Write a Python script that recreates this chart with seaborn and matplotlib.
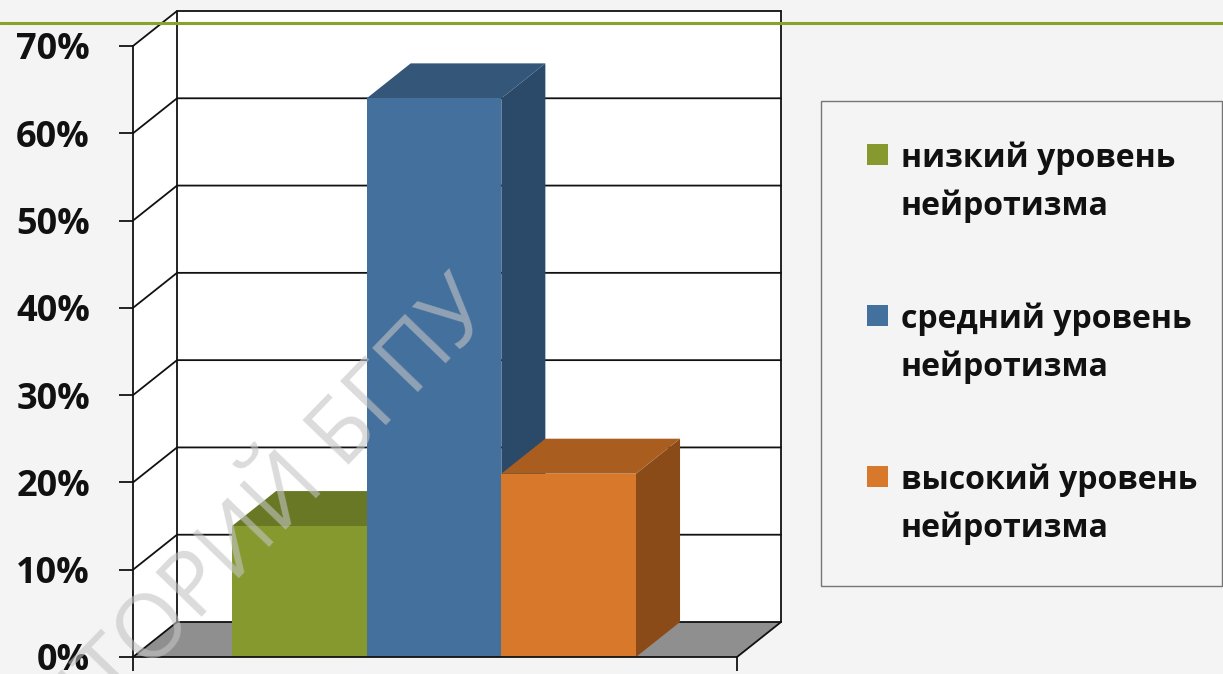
import matplotlib
matplotlib.use("Agg")
import matplotlib.pyplot as plt
from matplotlib.patches import Polygon, Rectangle
from matplotlib.legend_handler import HandlerBase
from matplotlib.lines import Line2D
import pandas as pd
import seaborn as sns

# ---- data ----
levels = ["низкий уровень\nнейротизма", "средний уровень\nнейротизма", "высокий уровень\nнейротизма"]
shares = [15, 64, 21]
y_ticks = [0, 10, 20, 30, 40, 50, 60, 70]
y_tick_labels = ["0%", "10%", "20%", "30%", "40%", "50%", "60%", "70%"]
front_colors = ["#85992e", "#44709d", "#d7782b"]
top_colors = ["#687824", "#345678", "#a95e20"]
side_colors = ["#55631d", "#2b4a69", "#8b4b18"]
watermark = "РЕПОЗИТОРИЙ БГПУ"

sns.set_theme(style="white")
plt.rcParams["font.family"] = ["Open Sans", "DejaVu Sans"]

W, H = 1223, 674
BG = "#f4f4f4"
fig = plt.figure(figsize=(W / 100, H / 100), dpi=100, facecolor=BG)
ax = fig.add_axes([133 / W, 1 - 657 / H, 604 / W, 611 / H])
ax.patch.set_visible(False)

df = pd.DataFrame({"level": levels, "share": shares})
sns.barplot(data=df, x="level", y="share", hue="level", palette=front_colors,
            width=1.0, saturation=1, legend=False, ax=ax, zorder=5,
            edgecolor="none", linewidth=0)
bars = list(ax.patches)

xl, xr = -1.235, 3.25
ytop = y_ticks[-1]
ddx, ddy = 0.327, 4.01  # depth offset

ax.autoscale(False)
# walls & floor
ax.add_patch(Polygon([(xl + ddx, ddy), (xr + ddx, ddy), (xr + ddx, ytop + ddy), (xl + ddx, ytop + ddy)],
                     closed=True, facecolor="white", edgecolor="none", clip_on=False, zorder=1))
ax.add_patch(Polygon([(xl, 0), (xl + ddx, ddy), (xl + ddx, ytop + ddy), (xl, ytop)],
                     closed=True, facecolor="white", edgecolor="none", clip_on=False, zorder=1))
ax.add_patch(Polygon([(xl, 0), (xr, 0), (xr + ddx, ddy), (xl + ddx, ddy)],
                     closed=True, facecolor="#8f8f8f", edgecolor="none", clip_on=False, zorder=1))

gkw = dict(color="#111111", lw=1.3, clip_on=False, zorder=2, solid_joinstyle="miter")
for t in y_ticks:
    ax.plot([xl, xl + ddx, xr + ddx], [t, t + ddy, t + ddy], **gkw)
ax.plot([xl + ddx, xl + ddx], [ddy, ytop + ddy], **gkw)
ax.plot([xr + ddx, xr + ddx], [ddy, ytop + ddy], **gkw)
ax.plot([xr, xr + ddx], [0, ddy], **gkw)

# 3D faces of the bars
for i, p in enumerate(bars):
    x0 = p.get_x()
    x1 = x0 + p.get_width()
    h = p.get_height()
    ax.add_patch(Polygon([(x1, 0), (x1 + ddx, ddy), (x1 + ddx, h + ddy), (x1, h)], closed=True,
                         facecolor=side_colors[i], edgecolor="none", clip_on=False, zorder=3 + 0.1 * i))
    ax.add_patch(Polygon([(x0, h), (x1, h), (x1 + ddx, h + ddy), (x0 + ddx, h + ddy)], closed=True,
                         facecolor=top_colors[i], edgecolor="none", clip_on=False, zorder=3 + 0.1 * i))

ax.set_xlim(xl, xr)
ax.set_ylim(0, ytop)

for s in ["top", "right"]:
    ax.spines[s].set_visible(False)
for s in ["left", "bottom"]:
    ax.spines[s].set_color("#111111")
    ax.spines[s].set_linewidth(1.3)
    ax.spines[s].set_zorder(6)

ax.set_yticks(y_ticks, y_tick_labels)
ax.set_xticks([xl, xr], ["", ""])
ax.set_xlabel("")
ax.set_ylabel("")
ax.tick_params(axis="y", left=True, direction="out", length=10, width=1.3, color="#111111",
               pad=21, labelsize=26, labelcolor="#111111")
ax.tick_params(axis="x", bottom=True, direction="out", length=10, width=1.3, color="#111111")
for lbl in ax.get_yticklabels():
    lbl.set_fontweight("bold")


class TopSquareHandler(HandlerBase):
    def __init__(self, size, xoff, yoff):
        super().__init__()
        self.size, self.xoff, self.yoff = size, xoff, yoff

    def create_artists(self, legend, orig_handle, xdescent, ydescent, width, height, fontsize, trans):
        y0 = height / 2 - ydescent + self.yoff - self.size / 2
        r = Rectangle((-xdescent + self.xoff, y0), self.size, self.size,
                      facecolor=orig_handle.get_facecolor(), edgecolor="none", transform=trans)
        return [r]


FS = 23
leg = fig.legend(handles=bars, labels=levels, loc="upper left",
                 bbox_to_anchor=(821 / W, 1 - 101 / H, 401 / W, 0), mode="expand", ncol=1,
                 frameon=True, fancybox=False, borderpad=1.28, labelspacing=2.5,
                 handlelength=0.85, handletextpad=0.37, borderaxespad=0,
                 prop=dict(family="Open Sans", weight="bold", size=FS),
                 handler_map={Rectangle: TopSquareHandler(15.1, 4.0, 21)})
leg.get_frame().set_edgecolor("#555555")
leg.get_frame().set_linewidth(1.0)
leg.get_frame().set_facecolor(BG)
for t in leg.get_texts():
    t.set_color("#111111")
    t.set_linespacing(1.55)

fig.add_artist(Line2D([0, 1], [1 - 23 / H] * 2, transform=fig.transFigure,
                      color="#8aa12b", lw=2.2, zorder=10))

fig.text(496 / W, 1 - 312 / H, watermark, rotation=46, rotation_mode="anchor",
         ha="right", va="baseline", fontsize=64, color="#c4c4c4", alpha=0.6, zorder=9,
         family="Open Sans")

fig.savefig("out.png", dpi=100, facecolor=BG)
